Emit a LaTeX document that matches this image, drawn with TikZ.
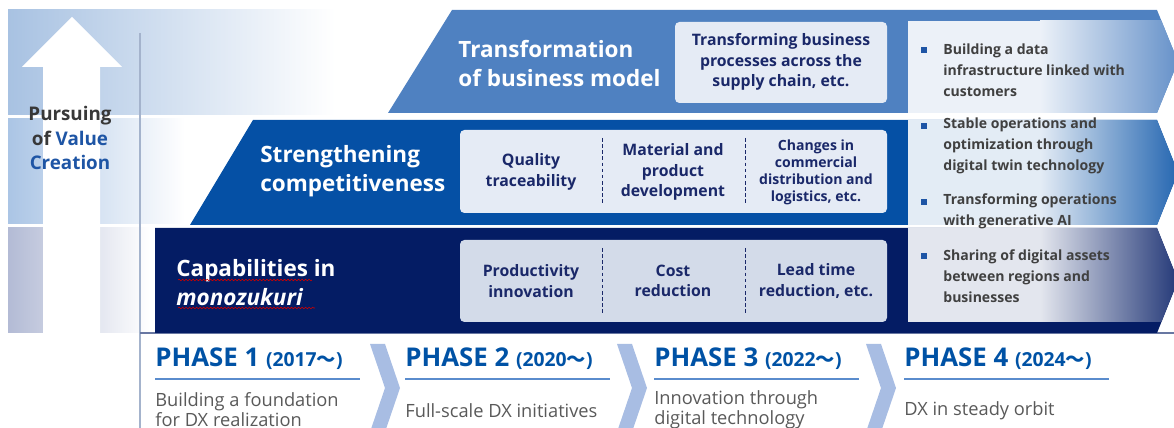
\documentclass[tikz,border=0pt]{standalone}
\usepackage{fontspec}
\setmainfont{Open Sans}
\newfontfamily\cjkfont{Noto Sans CJK JP}
\usetikzlibrary{calc,decorations.pathmorphing}
\definecolor{bandtop}{RGB}{79,129,193}
\definecolor{bandmid}{RGB}{5,80,165}
\definecolor{bandlow}{RGB}{4,28,100}
\definecolor{boxfill}{RGB}{229,235,245}
\definecolor{boxtext}{RGB}{26,40,105}
\definecolor{phaseblue}{RGB}{0,82,165}
\definecolor{phaseline}{RGB}{90,140,205}
\definecolor{chevron}{RGB}{168,189,227}
\definecolor{desctext}{RGB}{89,89,89}
\definecolor{bullettext}{RGB}{64,64,64}
\definecolor{bulletsq}{RGB}{30,85,165}
\definecolor{leftline}{RGB}{164,179,204}
\definecolor{leftA}{RGB}{168,194,226}
\definecolor{leftB}{RGB}{171,197,229}
\definecolor{leftC}{RGB}{179,187,213}
\newcommand{\wave}{{\cjkfont ～}}

\begin{document}
\begin{tikzpicture}[x=0.02cm, y=-0.02cm,
    bandlabel/.style={text=white, font=\fontsize{12.8}{16.5}\selectfont\bfseries, align=left, anchor=west, inner sep=0},
    boxtxt/.style={text=boxtext, font=\fontsize{9}{11.7}\selectfont\bfseries, align=center, inner sep=0},
    boxsmall/.style={text=boxtext, font=\fontsize{8}{9.7}\selectfont\bfseries, align=center, inner sep=0},
    bullettxt/.style={text=bullettext, font=\fontsize{8}{11.9}\selectfont\bfseries, align=left, anchor=west, inner sep=0},
    phasetitle/.style={text=phaseblue, font=\fontsize{14.7}{17}\selectfont\bfseries, anchor=base west, inner sep=0},
    desc/.style={text=desctext, font=\fontsize{10.4}{11.4}\selectfont, align=left, anchor=west, inner sep=0},
    pursue/.style={text=black!78, font=\fontsize{10.7}{14.2}\selectfont\bfseries, align=center, inner sep=0},
    divider/.style={boxtext, dash pattern=on 2pt off 1.5pt, line width=0.5pt},
    redwave/.style={red!80!black, line width=0.35pt, decorate, decoration={snake, amplitude=0.45pt, segment length=2pt}}]

    \useasboundingbox (0,0) rectangle (1174,428);

    % backdrop on the left
    \shade[left color=leftA, right color=white] (8,10) rectangle (335,115);
    \shade[left color=leftB, right color=white] (8,119) rectangle (185,224);
    \shade[left color=leftC, right color=white] (8,228) rectangle (150,333);

    \draw[leftline, line width=1pt] (140,33) -- (140,428);
    \draw[bandlow!60, line width=0.6pt] (140,333) -- (1174,333);

    \fill[white] (43,333) -- (43,67) -- (22,67) -- (72,17) -- (122,67) -- (100,67) -- (100,333) -- cycle;
    \node[pursue] (value) at (70,138) {Pursuing\\of \textcolor{bulletsq}{Value}\\\textcolor{bulletsq}{Creation}};

    % the three bands with their panels
    \foreach \bl/\tl/\yt/\yb/\pt/\pb/\col in {388/452/10/113/21/113/bandtop, 190/253/120/225/120/225/bandmid, 155/155/228/333/228/322/bandlow}{
            \fill[\col] (\bl,\yb) -- (\tl,\yt) -- (1157,\yt) -- (1178,{(\yt+\yb)/2}) -- (1157,\yb) -- cycle;
            \begin{scope}
                \clip (\bl,\yb) -- (\tl,\yt) -- (1157,\yt) -- (1178,{(\yt+\yb)/2}) -- (1157,\yb) -- cycle;
                \fill[\col!11] (908,\pt) rectangle (1041,\pb);
                \shade[left color=\col!11, right color=\col!88] (1040,\pt) rectangle (1180,\pb);
            \end{scope}
        }

    \fill[boxfill, rounded corners=2.5pt] (675,22) rectangle (887,103);
    \fill[boxfill, rounded corners=2.5pt] (460,130) rectangle (887,213);
    \fill[boxfill!92!bandlow, rounded corners=2.5pt] (460,240) rectangle (887,322);

    \foreach \x in {602, 745}{
            \draw[divider] (\x,138) -- (\x,205);
            \draw[divider] (\x,248) -- (\x,315);
        }

    \node[bandlabel] (transf) at (458,63.5) {Transformation\\of business model};
    \node[bandlabel] (streng) at (260,171.5) {Strengthening\\competitiveness};
    \node[bandlabel] (capab) at (176,282.5) {Capabilities in\\\textit{monozukuri}};
    \draw[redwave] (178,280) -- (312,280);
    \draw[redwave] (178,308) -- (315,308);

    \node[boxtxt] (supply) at (781,62) {Transforming business\\processes across the\\supply chain, etc.};
    \node[boxtxt] (quality) at (531,172) {Quality\\traceability};
    \node[boxtxt] (material) at (673,172) {Material and\\product\\development};
    \node[boxsmall] (logist) at (816,172) {Changes in\\commercial\\distribution and\\logistics, etc.};
    \node[boxtxt] (produc) at (531,281) {Productivity\\innovation};
    \node[boxtxt] (cost) at (673,281) {Cost\\reduction};
    \node[boxtxt] (lead) at (816,281) {Lead time\\reduction, etc.};

    % bullets in the panels
    \foreach \y in {49, 125, 201, 255}{
            \fill[bulletsq] (921,\y-2) rectangle ++(6,6);
        }
    \node[bullettxt] (data) at (943,70) {Building a data\\infrastructure linked with\\customers};
    \node[bullettxt] (twin) at (943,145.5) {Stable operations and\\optimization through\\digital twin technology};
    \node[bullettxt] (genai) at (943,211.5) {Transforming operations\\with generative AI};
    \node[bullettxt] (assets) at (943,276) {Sharing of digital assets\\between regions and\\businesses};

    % phases
    \foreach \x in {370, 617, 866}{
            \fill[chevron] (\x,344) -- ++(15,0) -- ++(15,44) -- ++(-15,44) -- ++(-15,0) -- ++(15,-44) -- cycle;
        }
    \foreach \x/\n/\yr in {155/1/2017, 405/2/2020, 654/3/2022, 904/4/2024}{
            \node[phasetitle] (ph\n) at (\x,367) {PHASE \n\ {\fontsize{11}{13}\selectfont(\yr\wave)}};
            \draw[phaseline, line width=1.2pt] (\x,379) -- ++(205,0);
        }

    \node[desc] (d1) at (155,410) {Building a foundation\\for DX realization};
    \node[desc] (d2) at (405,411) {Full-scale DX initiatives};
    \node[desc] (d3) at (654,410) {Innovation through\\digital technology};
    \node[desc] (d4) at (904,411) {DX in steady orbit};

\end{tikzpicture}
\end{document}
